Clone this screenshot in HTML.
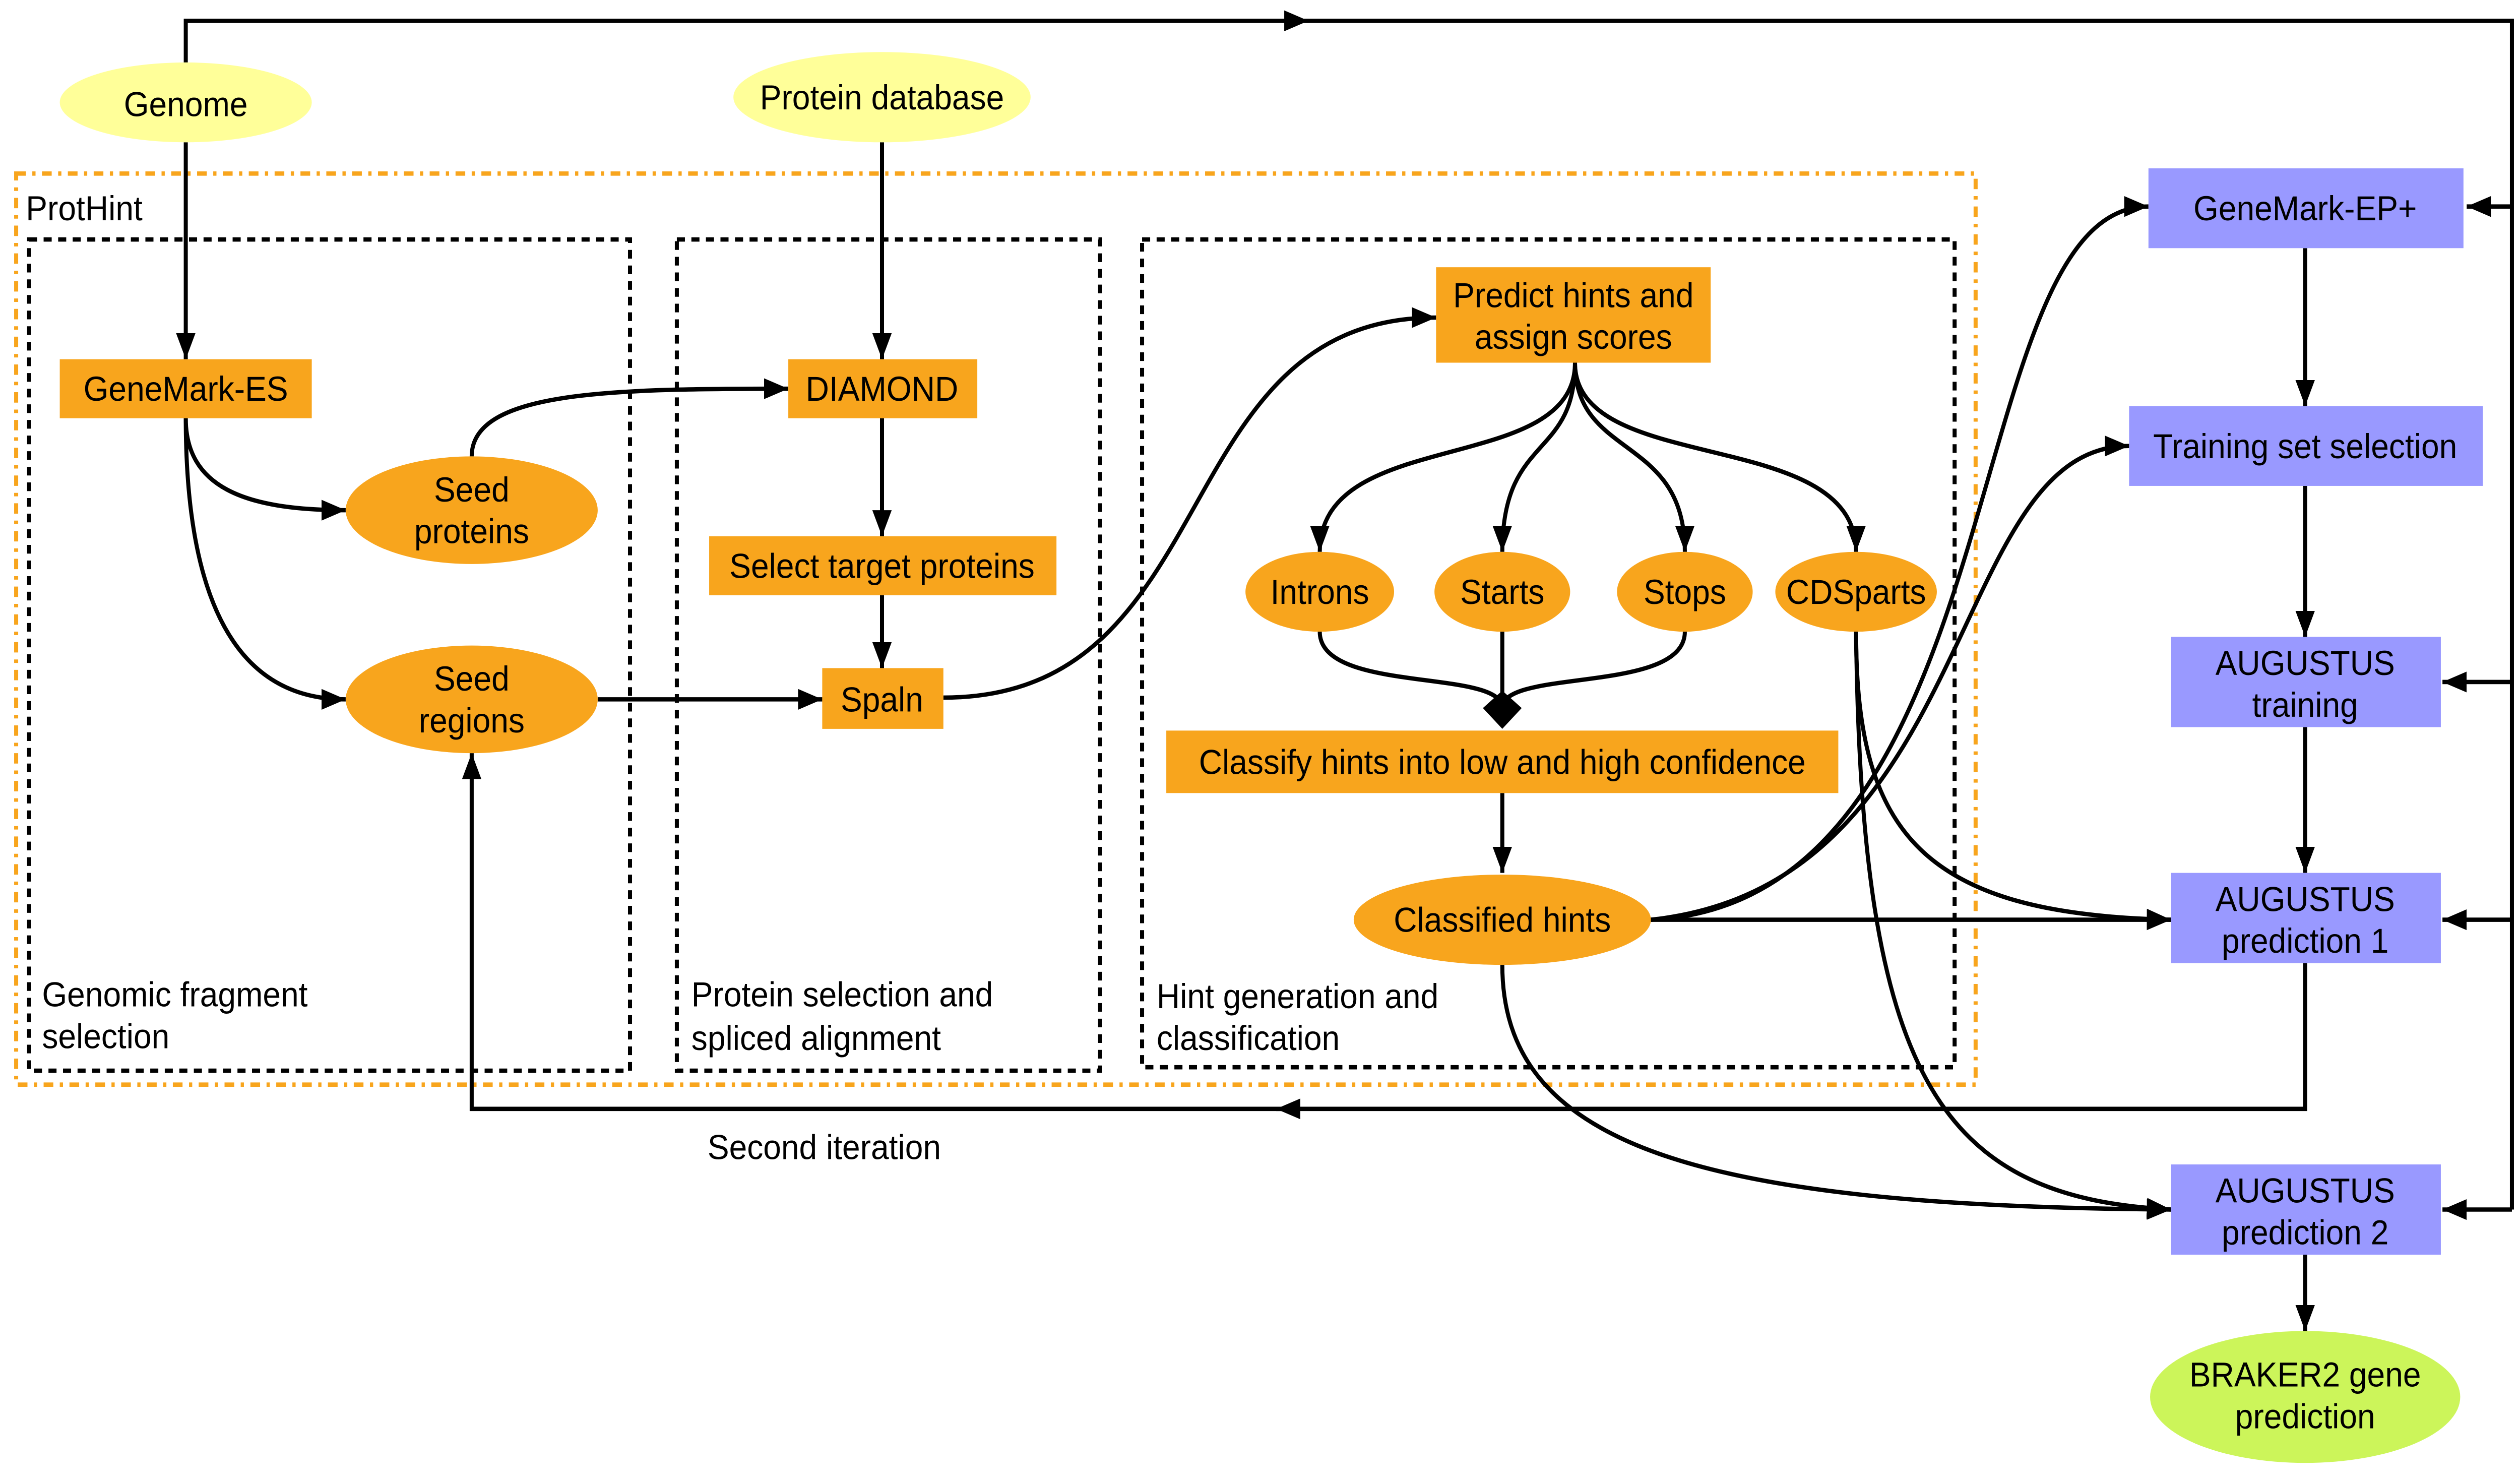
<!DOCTYPE html>
<html><head><meta charset="utf-8"><style>
html,body{margin:0;padding:0;background:#fff;width:100%;height:100%;overflow:hidden;}
svg{display:block;width:100vw;height:100vh;}
text{font-family:"Liberation Sans",sans-serif;font-size:20px;fill:#000;}
.c{text-anchor:middle;}
.ln{fill:none;stroke:#000;stroke-width:2.5;}
.or{fill:#F8A51D;}
.bl{fill:#9999FF;}
</style></head><body>
<svg viewBox="0 0 1560 854" preserveAspectRatio="none" xmlns="http://www.w3.org/2000/svg">
<defs>
<marker id="a" viewBox="0 0 10 10" refX="10" refY="5" markerWidth="6" markerHeight="6" orient="auto" markerUnits="strokeWidth"><path d="M0,1 L10,5 L0,9 z" fill="#000"/></marker>
</defs>
<rect width="1560" height="854" fill="#fff"/>
<rect x="10" y="100" width="1213" height="525" fill="none" stroke="#F8A51D" stroke-width="2.5" stroke-dasharray="6,4,2,4"/>
<text x="16" y="127">ProtHint</text>
<rect x="18" y="138" width="372" height="479" fill="none" stroke="#000" stroke-width="2.5" stroke-dasharray="5,4"/>
<rect x="419" y="138" width="262" height="479" fill="none" stroke="#000" stroke-width="2.5" stroke-dasharray="5,4"/>
<rect x="707" y="138" width="503" height="477" fill="none" stroke="#000" stroke-width="2.5" stroke-dasharray="5,4"/>
<text x="26" y="580">Genomic fragment</text><text x="26" y="604">selection</text>
<text x="428" y="580">Protein selection and</text><text x="428" y="605">spliced alignment</text>
<text x="716" y="581">Hint generation and</text><text x="716" y="605">classification</text>
<text x="438" y="668">Second iteration</text>

<path class="ln" d="M115,36 V12 H810" marker-end="url(#a)"/>
<path class="ln" d="M805,12 H1555 V697"/>
<path class="ln" d="M1555,119 H1527" marker-end="url(#a)"/>
<path class="ln" d="M1555,393 H1512" marker-end="url(#a)"/>
<path class="ln" d="M1555,530 H1512" marker-end="url(#a)"/>
<path class="ln" d="M1555,697 H1512" marker-end="url(#a)"/>
<path class="ln" d="M115,82 V207" marker-end="url(#a)"/>
<path class="ln" d="M546,82 V207" marker-end="url(#a)"/>
<path class="ln" d="M115,241 C115,280 150,294 214,294" marker-end="url(#a)"/>
<path class="ln" d="M115,241 C115,380 170,403 214,403" marker-end="url(#a)"/>
<path class="ln" d="M292,263 C292,225 380,224 488,224" marker-end="url(#a)"/>
<path class="ln" d="M546,241 V309" marker-end="url(#a)"/>
<path class="ln" d="M546,343 V385" marker-end="url(#a)"/>
<path class="ln" d="M370,403 H509" marker-end="url(#a)"/>
<path class="ln" d="M584,402 C760,402 720,183 889,183" marker-end="url(#a)"/>
<path class="ln" d="M975,209 C975,275 817,245 817,318" marker-end="url(#a)"/>
<path class="ln" d="M975,209 C975,265 930,250 930,318" marker-end="url(#a)"/>
<path class="ln" d="M975,209 C975,265 1043,250 1043,318" marker-end="url(#a)"/>
<path class="ln" d="M975,209 C975,275 1149,245 1149,318" marker-end="url(#a)"/>
<path class="ln" d="M817,364 C817,400 930,385 930,408"/>
<path class="ln" d="M930,364 V408"/>
<path class="ln" d="M1043,364 C1043,400 930,385 930,408"/>
<path d="M918,408 L930,398 L942,408 L930,420 z" fill="#000"/>
<path class="ln" d="M930,457 V503" marker-end="url(#a)"/>
<path class="ln" d="M1022,530 H1344" marker-end="url(#a)"/>
<path class="ln" d="M1022,530 C1250,520 1210,119 1330,119" marker-end="url(#a)"/>
<path class="ln" d="M1022,530 C1225,510 1205,257 1318,257" marker-end="url(#a)"/>
<path class="ln" d="M1149,364 C1149,480 1190,527 1344,530" marker-end="url(#a)"/>
<path class="ln" d="M1149,364 C1152,620 1200,690 1344,697" marker-end="url(#a)"/>
<path class="ln" d="M930,556 C930,660 1050,695 1344,697" marker-end="url(#a)"/>
<path class="ln" d="M1427,143 V234" marker-end="url(#a)"/>
<path class="ln" d="M1427,280 V367" marker-end="url(#a)"/>
<path class="ln" d="M1427,419 V503" marker-end="url(#a)"/>
<path class="ln" d="M1427,723 V767" marker-end="url(#a)"/>
<path class="ln" d="M1427,555 V639 H790" marker-end="url(#a)"/>
<path class="ln" d="M800,639 H292 V434" marker-end="url(#a)"/>

<ellipse cx="115" cy="59" rx="78" ry="23" fill="#FFFF99"/><text class="c" x="115" y="67">Genome</text>
<ellipse cx="546" cy="56" rx="92" ry="26" fill="#FFFF99"/><text class="c" x="546" y="63">Protein database</text>
<rect class="or" x="37" y="207" width="156" height="34"/><text class="c" x="115" y="231">GeneMark-ES</text>
<ellipse class="or" cx="292" cy="294" rx="78" ry="31"/><text class="c" x="292" y="289">Seed</text><text class="c" x="292" y="313">proteins</text>
<ellipse class="or" cx="292" cy="403" rx="78" ry="31"/><text class="c" x="292" y="398">Seed</text><text class="c" x="292" y="422">regions</text>
<rect class="or" x="488" y="207" width="117" height="34"/><text class="c" x="546" y="231">DIAMOND</text>
<rect class="or" x="439" y="309" width="215" height="34"/><text class="c" x="546" y="333">Select target proteins</text>
<rect class="or" x="509" y="385" width="75" height="35"/><text class="c" x="546" y="410">Spaln</text>
<rect class="or" x="889" y="154" width="170" height="55"/><text class="c" x="974" y="177">Predict hints and</text><text class="c" x="974" y="201">assign scores</text>
<ellipse class="or" cx="817" cy="341" rx="46" ry="23"/><text class="c" x="817" y="348">Introns</text>
<ellipse class="or" cx="930" cy="341" rx="42" ry="23"/><text class="c" x="930" y="348">Starts</text>
<ellipse class="or" cx="1043" cy="341" rx="42" ry="23"/><text class="c" x="1043" y="348">Stops</text>
<ellipse class="or" cx="1149" cy="341" rx="50" ry="23"/><text class="c" x="1149" y="348">CDSparts</text>
<rect class="or" x="722" y="421" width="416" height="36"/><text class="c" x="930" y="446">Classify hints into low and high confidence</text>
<ellipse class="or" cx="930" cy="530" rx="92" ry="26"/><text class="c" x="930" y="537">Classified hints</text>
<rect class="bl" x="1330" y="97" width="195" height="46"/><text class="c" x="1427" y="127">GeneMark-EP+</text>
<rect class="bl" x="1318" y="234" width="219" height="46"/><text class="c" x="1427" y="264">Training set selection</text>
<rect class="bl" x="1344" y="367" width="167" height="52"/><text class="c" x="1427" y="389">AUGUSTUS</text><text class="c" x="1427" y="413">training</text>
<rect class="bl" x="1344" y="503" width="167" height="52"/><text class="c" x="1427" y="525">AUGUSTUS</text><text class="c" x="1427" y="549">prediction 1</text>
<rect class="bl" x="1344" y="671" width="167" height="52"/><text class="c" x="1427" y="693">AUGUSTUS</text><text class="c" x="1427" y="717">prediction 2</text>
<ellipse cx="1427" cy="805" rx="96" ry="38" fill="#CCF55A"/><text class="c" x="1427" y="799">BRAKER2 gene</text><text class="c" x="1427" y="823">prediction</text>
</svg>
</body></html>
